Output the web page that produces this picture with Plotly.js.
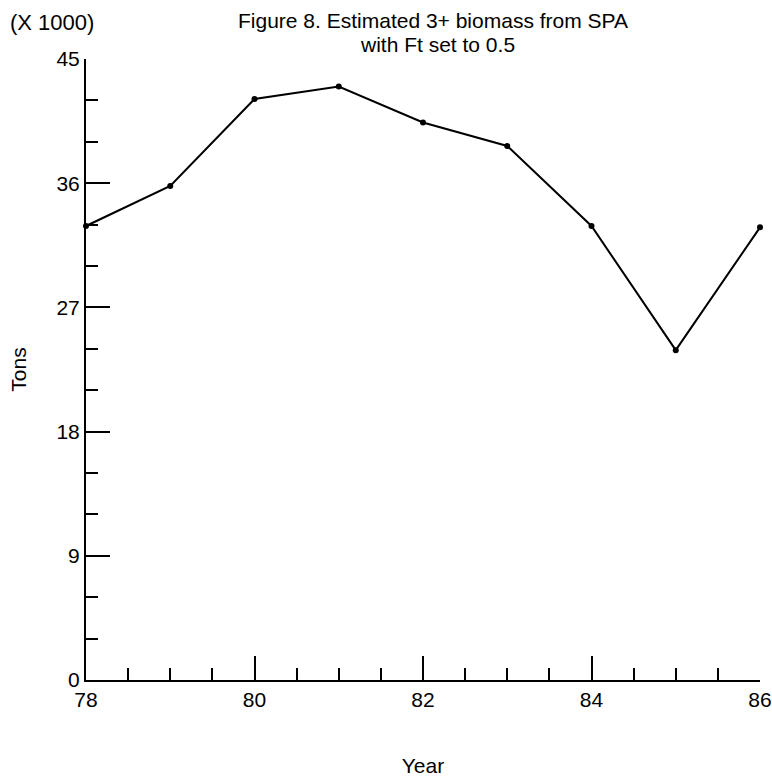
<!DOCTYPE html>
<html>
<head>
<meta charset="utf-8">
<script src="https://cdn.plot.ly/plotly-3.0.1.min.js"></script>
<style>html,body{margin:0;padding:0;background:#fff;}#chart{width:772px;height:778px;}</style>
</head>
<body>
<div id="chart"></div>
<script>
// Year (two-digit) and estimated 3+ biomass (thousand tons)
const years = [78, 79, 80, 81, 82, 83, 84, 85, 86];
const biomass = [32.9, 35.8, 42.1, 43.0, 40.4, 38.7, 32.9, 23.9, 32.8];
const yTickVals = [0, 9, 18, 27, 36, 45];
const xTickVals = [78, 80, 82, 84, 86];
const titleLines = ['Figure 8. Estimated 3+ biomass from SPA', 'with Ft set to 0.5'];

const FONT = '"Liberation Sans", Arial, Helvetica, sans-serif';

const trace = {
  x: years,
  y: biomass,
  type: 'scatter',
  mode: 'lines+markers',
  line: {color: '#000', width: 2},
  marker: {color: '#000', size: 6},
  cliponaxis: false,
  hoverinfo: 'x+y'
};

const layout = {
  width: 772,
  height: 778,
  margin: {l: 86, r: 12, t: 59, b: 98},
  paper_bgcolor: '#fff',
  plot_bgcolor: '#fff',
  showlegend: false,
  font: {family: FONT, color: '#000', size: 22},
  xaxis: {
    range: [78, 86],
    tickmode: 'array',
    tickvals: xTickVals,
    ticktext: xTickVals.map(String),
    ticks: 'inside',
    ticklen: 24,
    tickwidth: 2,
    tickcolor: '#000',
    minor: {ticks: 'inside', dtick: 0.5, tick0: 78, ticklen: 12, tickwidth: 2, tickcolor: '#000', showgrid: false},
    showline: true,
    linecolor: '#000',
    linewidth: 2,
    showgrid: false,
    zeroline: false,
    tickfont: {family: FONT, size: 21, color: '#000'},
    title: {text: 'Year', font: {family: FONT, size: 21, color: '#000'}, standoff: 48},
    automargin: false,
    fixedrange: true
  },
  yaxis: {
    range: [0, 45],
    tickmode: 'array',
    tickvals: yTickVals,
    ticktext: yTickVals.map(String),
    ticks: 'inside',
    ticklen: 24,
    tickwidth: 2,
    tickcolor: '#000',
    minor: {ticks: 'inside', dtick: 3, tick0: 0, ticklen: 12, tickwidth: 2, tickcolor: '#000', showgrid: false},
    showline: true,
    linecolor: '#000',
    linewidth: 2,
    showgrid: false,
    zeroline: false,
    tickfont: {family: FONT, size: 21, color: '#000'},
    title: {text: 'Tons', font: {family: FONT, size: 21, color: '#000'}, standoff: 24},
    automargin: false,
    fixedrange: true
  },
  annotations: [
    {
      text: titleLines[0],
      xref: 'paper', yref: 'paper',
      x: (433 - 86) / 674, y: 1,
      yshift: 39,
      xanchor: 'center', yanchor: 'middle',
      showarrow: false,
      borderpad: 0,
      font: {family: FONT, size: 21, color: '#000'}
    },
    {
      text: titleLines[1],
      xref: 'paper', yref: 'paper',
      x: (437 - 86) / 674, y: 1,
      yshift: 15,
      xanchor: 'center', yanchor: 'middle',
      showarrow: false,
      borderpad: 0,
      font: {family: FONT, size: 21, color: '#000'}
    },
    {
      text: '(X 1000)',
      xref: 'paper', yref: 'paper',
      x: 0, y: 1,
      xshift: -78, yshift: 37,
      xanchor: 'left', yanchor: 'middle',
      showarrow: false,
      font: {family: FONT, size: 22, color: '#000'}
    }
  ]
};

Plotly.newPlot('chart', [trace], layout, {displayModeBar: false, staticPlot: true});
</script>
</body>
</html>
